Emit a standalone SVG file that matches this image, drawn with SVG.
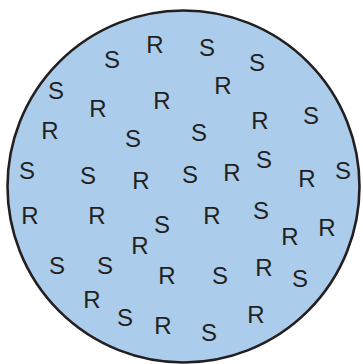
<svg xmlns="http://www.w3.org/2000/svg" width="363" height="364" viewBox="0 0 363 364">
<style>
.c{fill:#abcdeb;stroke:#231f20;stroke-width:2.6}
text{font-family:"Liberation Sans",Arial,sans-serif;font-size:24px;fill:#231f20;text-anchor:middle}
</style>
<rect width="363" height="364" fill="#ffffff"/>
<circle class="c" cx="183.5" cy="186.5" r="176"/>
<g id="letters">
<text x="112" y="68">S</text>
<text x="155" y="53">R</text>
<text x="207" y="56">S</text>
<text x="257" y="71">S</text>
<text x="56" y="99">S</text>
<text x="223" y="94">R</text>
<text x="98" y="117">R</text>
<text x="162" y="109">R</text>
<text x="311" y="124">S</text>
<text x="50" y="139">R</text>
<text x="133" y="147">S</text>
<text x="199" y="141">S</text>
<text x="260" y="129">R</text>
<text x="27" y="179">S</text>
<text x="88" y="184">S</text>
<text x="141" y="189">R</text>
<text x="190" y="183">S</text>
<text x="232" y="181">R</text>
<text x="264" y="168">S</text>
<text x="307" y="187">R</text>
<text x="343" y="179">S</text>
<text x="30" y="224">R</text>
<text x="97" y="224">R</text>
<text x="162" y="233">S</text>
<text x="212" y="224">R</text>
<text x="261" y="219">S</text>
<text x="290" y="245">R</text>
<text x="327" y="236">R</text>
<text x="140" y="254">R</text>
<text x="57" y="274">S</text>
<text x="105" y="274">S</text>
<text x="167" y="284">R</text>
<text x="220" y="284">S</text>
<text x="264" y="276">R</text>
<text x="300" y="287">S</text>
<text x="92" y="308">R</text>
<text x="125" y="326">S</text>
<text x="163" y="334">R</text>
<text x="209" y="341">S</text>
<text x="256" y="323">R</text>
</g>
</svg>
